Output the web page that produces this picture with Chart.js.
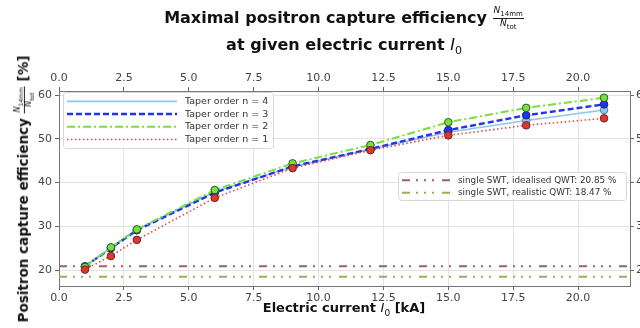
<!DOCTYPE html>
<html>
<head>
<meta charset="utf-8">
<script src="https://cdn.jsdelivr.net/npm/chart.js@4"></script>
<style>
  body { margin: 0; background: #fff; }
  #wrap { position: relative; width: 640px; height: 328px; overflow: hidden; font-family: "DejaVu Sans", sans-serif; }
  canvas { position: absolute; left: 0; top: 0; }
  .t { position: absolute; white-space: nowrap; font-weight: bold; color: #111; }
  .frac { display: inline-block; vertical-align: middle; text-align: center; font-weight: normal; font-style: italic; line-height: 1; }
  .frac span { display: block; padding: 0 1px; }
  .frac .num { border-bottom: 1px solid #222; }
  sub { font-style: normal; font-weight: normal; }
</style>
</head>
<body>
<div id="wrap">
  <canvas id="myChart" width="640" height="328"></canvas>
  <div class="t" id="title1" style="font-size:16px; left:0; width:688px; text-align:center; top:6px;">Maximal positron capture efficiency <span class="frac" style="font-size:9px;"><span class="num">N<sub style="font-size:7px">14mm</sub></span><span>N<sub style="font-size:7px">tot</sub></span></span></div>
  <div class="t" id="title2" style="font-size:16px; left:0; width:688px; text-align:center; top:35px;">at given electric current <i style="font-weight:normal">I</i><sub style="font-size:11px">0</sub></div>
  <div class="t" id="xlab" style="font-size:13px; left:0; width:688px; text-align:center; top:300px;">Electric current <i style="font-weight:normal">I</i><sub style="font-size:9px">0</sub> [kA]</div>
  <div class="t" id="ylab" style="font-size:13.5px; left:24px; top:189px; transform: translate(-50%,-50%) rotate(-90deg);">Positron capture efficiency <span class="frac" style="font-size:8px;"><span class="num">N<sub style="font-size:6px">14mm</sub></span><span>N<sub style="font-size:6px">tot</sub></span></span> [%]</div>
</div>
<script>
// currents in kA
const currents = [1, 2, 3, 6, 9, 12, 15, 18, 21];
const taper4 = [20.9, 25.1, 29.2, 37.9, 43.6, 47.6, 51.5, 54.2, 56.6];
const taper3 = [20.8, 25.0, 29.1, 37.7, 43.7, 47.7, 52.0, 55.4, 57.9];
const taper2 = [20.7, 25.2, 29.3, 38.3, 44.4, 48.6, 53.8, 57.1, 59.4];
const taper1 = [20.1, 23.2, 26.9, 36.5, 43.3, 47.4, 50.8, 53.1, 54.7];
const swtIdeal = [20.85];
const swtReal = [18.47];
const xTicks = [0, 2.5, 5, 7.5, 10, 12.5, 15, 17.5, 20];
const yTicks = [20, 30, 40, 50, 60];
const xMin = 0, xMax = 22;

const pts = ys => currents.map((c, i) => ({ x: c, y: ys[i] }));
const hline = v => [{ x: xMin, y: v }, { x: xMax, y: v }];

const series = [
    { label: 'Taper order n = 4', data: pts(taper4), color: '#8fc6ea', bg: '#8fc6ea', edge: '#4d7fa3', width: 1.6, dash: [] },
    { label: 'Taper order n = 3', data: pts(taper3), color: '#2233ee', bg: '#2233ee', edge: '#112088', width: 2.4, dash: [6, 3] },
    { label: 'Taper order n = 2', data: pts(taper2), color: '#77e040', bg: '#77e040', edge: '#2c5a1e', width: 2, dash: [8, 3, 2, 3] },
    { label: 'Taper order n = 1', data: pts(taper1), color: '#e04a40', bg: '#d83a32', edge: '#7a2018', width: 1.6, dash: [1.5, 2.5] },
];
const refs = [
    { label: 'single SWT, idealised QWT: 20.85 %', data: hline(swtIdeal[0]), color: '#a0606e', width: 2, dash: [8, 6, 2, 6, 2, 6, 2, 8] },
    { label: 'single SWT, realistic QWT: 18.47 %', data: hline(swtReal[0]), color: '#aaa55a', width: 2, dash: [8, 6, 2, 6, 2, 6, 2, 8] },
];

const datasets = [];
refs.forEach(r => datasets.push({
    label: r.label, data: r.data, borderColor: r.color, borderWidth: r.width,
    borderDash: r.dash, pointRadius: 0, fill: false, order: 10
}));
series.forEach((s, i) => datasets.push({
    label: s.label, data: s.data, borderColor: s.color, borderWidth: s.width,
    borderDash: s.dash, pointRadius: 3.8, pointBackgroundColor: s.bg,
    pointBorderColor: s.edge, pointBorderWidth: 1, fill: false, order: 4 - i
}));

function drawLegend(ctx, items, box, rowH, lineLen, fontSize) {
    ctx.save();
    ctx.fillStyle = 'rgba(255,255,255,0.85)';
    ctx.strokeStyle = '#d8d8d8';
    ctx.lineWidth = 1;
    ctx.beginPath();
    ctx.roundRect(box.x + 0.5, box.y + 0.5, box.w, box.h, 3);
    ctx.fill();
    ctx.stroke();
    ctx.font = fontSize + 'px "DejaVu Sans"';
    ctx.textBaseline = 'middle';
    items.forEach((it, i) => {
        const y = box.y + box.pad + rowH * i + rowH / 2;
        ctx.strokeStyle = it.color;
        ctx.lineWidth = it.width;
        ctx.setLineDash(it.dash);
        ctx.beginPath();
        ctx.moveTo(box.x + 4, y);
        ctx.lineTo(box.x + 4 + lineLen, y);
        ctx.stroke();
        ctx.setLineDash([]);
        ctx.fillStyle = '#333';
        ctx.fillText(it.label, box.x + lineLen + 12, y);
    });
    ctx.restore();
}

const legendPlugin = {
    id: 'legends',
    afterDraw(chart) {
        const ctx = chart.ctx;
        drawLegend(ctx, series, { x: 63, y: 92, w: 210, h: 56, pad: 3 }, 12.7, 110, 9.5);
        drawLegend(ctx, refs, { x: 398, y: 172, w: 228, h: 28, pad: 2 }, 12.5, 48, 8.8);
    }
};

const tickFont = { family: 'DejaVu Sans', size: 11 };
const fixTicks = list => axis => { axis.ticks = list.map(v => ({ value: v })); };

new Chart(document.getElementById('myChart').getContext('2d'), {
    type: 'line',
    data: { datasets },
    plugins: [legendPlugin],
    options: {
        responsive: false,
        animation: false,
        layout: { padding: { left: 0, right: 0, top: 69, bottom: 21 } },
        plugins: { legend: { display: false }, tooltip: { enabled: false } },
        scales: {
            x: {
                type: 'linear', position: 'bottom', min: xMin, max: xMax,
                afterBuildTicks: fixTicks(xTicks),
                afterFit: a => { a.height = 21; },
                ticks: { font: tickFont, color: '#444', padding: 2, maxRotation: 0, callback: v => v.toFixed(1) },
                grid: { color: '#e3e3e3', tickColor: '#666', tickLength: 4 },
                border: { color: '#777' }
            },
            x2: {
                type: 'linear', position: 'top', min: xMin, max: xMax,
                afterBuildTicks: fixTicks(xTicks),
                afterFit: a => { a.height = 22; },
                ticks: { font: tickFont, color: '#444', padding: 2, maxRotation: 0, callback: v => v.toFixed(1) },
                grid: { drawOnChartArea: false, tickColor: '#666', tickLength: 4 },
                border: { color: '#777' }
            },
            y: {
                type: 'linear', position: 'left', min: 16.35, max: 60.95,
                afterBuildTicks: fixTicks(yTicks),
                afterFit: a => { a.width = 59; },
                ticks: { font: tickFont, color: '#444', padding: 3 },
                grid: { color: '#e3e3e3', tickColor: '#666', tickLength: 4 },
                border: { color: '#777' }
            },
            y2: {
                type: 'linear', position: 'right', min: 16.35, max: 60.95,
                afterBuildTicks: fixTicks(yTicks),
                afterFit: a => { a.width = 10; },
                ticks: { font: tickFont, color: '#444', padding: 2 },
                grid: { drawOnChartArea: false, tickColor: '#666', tickLength: 4 },
                border: { color: '#777' }
            }
        }
    }
});
</script>
</body>
</html>
